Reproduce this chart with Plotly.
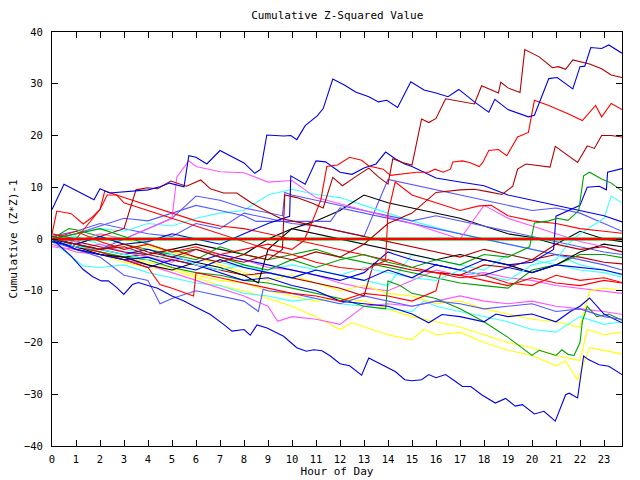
import plotly.graph_objects as go

HOURS = [0, 1, 2, 3, 4, 5, 6, 7, 8, 9, 10, 11, 12, 13, 14, 15, 16, 17, 18, 19, 20, 21, 22, 23, 23.75]
X_TICKS = list(range(24))
Y_TICKS = [-40, -30, -20, -10, 0, 10, 20, 30, 40]

BLUE = "#0000e0"; DRED = "#b00000"; RED = "#ff0000"; GREEN = "#00a000"
LBLUE = "#5858ff"; MAG = "#ff55ff"; CYAN = "#40ffff"; YEL = "#ffff00"; BLK = "#000000"

a_x = [0, 0.5, 1.75, 2.0, 2.4, 3.3, 4.0, 4.5, 4.9, 5.5, 5.7, 6.0, 6.45, 7.0, 7.45, 8.0, 8.45, 8.7, 8.95, 9.65, 9.95, 10.2, 10.55, 11.05, 11.3, 11.7, 12.2, 12.65, 13.2, 13.6, 13.95, 14.4, 14.95, 15.5, 16.0, 16.5, 16.95, 17.6, 18.2, 18.45, 19.0, 19.85, 20.1, 20.7, 21.05, 21.7, 22.0, 22.2, 22.45, 22.9, 23.2, 23.75]
a_y = [5.7, 10.6, 7.6, 9.7, 8.9, 9.2, 9.5, 10.1, 10.8, 10.1, 16.1, 15.8, 14.5, 17.1, 16.0, 14.7, 12.7, 13.5, 20.1, 19.9, 20.0, 19.2, 21.9, 23.8, 25.2, 30.9, 29.7, 28.4, 27.5, 26.5, 26.8, 25.4, 30.4, 28.8, 28.2, 27.5, 28.9, 26.5, 24.5, 27.0, 25.0, 23.6, 23.9, 31.0, 31.2, 29.0, 33.3, 33.4, 37.0, 36.8, 37.5, 35.9]

b_x = [0, 1, 2, 3, 4, 5, 6, 7, 8, 9, 9.6, 9.7, 10.2, 10.8, 11.3, 11.7, 12.1, 12.7, 13.2, 13.6, 14.0, 14.2, 14.6, 15.0, 15.4, 15.7, 16.0, 16.4, 17.1, 17.6, 17.9, 18.3, 18.6, 18.7, 19.0, 19.5, 19.7, 20.3, 20.85, 21.1, 21.4, 21.7, 22.4, 22.9, 23.3, 23.75]
b_y = [0, -1, -2, -1.5, -3, -2, -3.5, -4.5, -3, -4, -2, 8.5, 8, 7, 6, 11.9, 10.3, 12.2, 13.7, 12, 10.6, 15.5, 14.8, 14.3, 23.2, 22.5, 23.3, 27.1, 26.5, 26.1, 29.6, 28.8, 28.2, 30.3, 29.2, 28.3, 36.6, 35.2, 33.1, 33.3, 32.8, 34.6, 33.8, 32.9, 31.7, 31.2]

c_x = [0, 1, 2, 3, 4, 5, 6, 7, 8, 9, 10, 10.5, 10.9, 11.2, 11.45, 11.9, 12.4, 12.9, 13.2, 13.8, 14.1, 14.6, 15.2, 15.7, 15.95, 16.3, 16.6, 16.7, 17.1, 17.4, 17.8, 17.95, 18.2, 18.6, 18.95, 19.4, 19.85, 20.1, 20.7, 21.5, 22.1, 22.65, 22.9, 23.3, 23.75]
c_y = [0, 1.5, -0.5, -2, -1, -2.5, -1.5, -3, -2, -1, -2, -0.3, 4, 7.5, 14, 14.3, 15.8, 15.2, 14.1, 13.5, 12.3, 12.6, 12.9, 12.9, 13.5, 12.9, 13.5, 14.9, 15.1, 14.8, 14, 14.8, 17.1, 17.3, 16.1, 19.7, 20.6, 26.8, 25.8, 24.2, 22.9, 25.8, 23.6, 26.2, 25]

d_x = [0, 1, 2, 3, 4, 5, 6, 7, 8, 9, 10, 11, 12, 13, 14, 15, 16, 17, 17.6, 18.2, 18.75, 19.2, 19.4, 19.75, 20.3, 20.75, 20.97, 21.5, 21.9, 22.3, 22.6, 22.9, 23.3, 23.75]
d_y = [0, -1, -2, -1, -2.5, -3.5, -2, -3.5, -4.5, -3, -4, -2.5, -3.5, -1, 3, 5, 9, 9.5, 9.6, 9.1, 8.6, 10.2, 13.5, 14.5, 14.2, 13.9, 17.9, 16.2, 14.8, 18, 17.5, 20, 20, 19.7]

e_x = [0, 1, 2, 3, 4, 5, 6, 7, 8, 9, 10, 11, 12, 13, 14, 15, 16, 17, 18, 19, 19.9, 20.1, 20.7, 21.05, 21.5, 21.95, 22.15, 22.4, 22.9, 23.3, 23.75]
e_y = [0, 1, 2, 0.5, -1, -2.5, -2, -3.5, -5, -6, -4, -5.5, -4, -3, -4.5, -5.5, -4, -5, -3, -3.5, -1.5, 3.1, 3.5, 4, 3.6, 5.5, 12.2, 12.9, 11.6, 10.8, 9.3]

f_x = [0, 1, 2, 3, 3.5, 3.96, 4.4, 4.95, 5.6, 6.2, 6.6, 7.15, 7.7, 8.3, 8.8, 9.5, 10, 11, 12, 13, 14, 15, 16, 17, 18, 19, 20, 21, 22, 23, 23.75]
f_y = [0, -1, 0.5, 2, 9.5, 9.9, 9.7, 11.2, 10.2, 11.4, 9.7, 8.9, 8.9, 7, 5.7, 4, 3.5, 2.5, 1.5, 0.5, -0.5, -1.5, -2.5, -3.5, -2, -3, -4, -1, -2, -1.5, -2.5]

g_x = [0, 1, 2, 3, 4, 5, 6, 7, 8, 9, 10, 11, 12, 13, 14, 15, 16, 17, 18, 19, 20, 20.9, 21.0, 21.5, 22.0, 22.3, 22.8, 23.1, 23.15, 23.75]
g_y = [0, -2, -3, -4, -3.5, -5, -6, -4, -5.5, -6.5, -7.5, -6, -7, -8, -6, -7.5, -5, -6, -4, -5, -4.5, -2, 4.4, 5.5, 6.5, 10, 10.2, 9.5, 12.9, 13.6]

s1_x = [0, 1, 2, 3, 4, 5, 6, 7, 8, 9, 9.9, 9.95, 10.55, 11.0, 11.4, 12.0, 12.5, 13.0, 13.5, 13.9, 14.3, 14.7, 15.0, 15.5, 16, 17, 18, 19, 20, 21, 22, 23, 23.75]
s1_y = [0, -1, 0.5, -1, -0.5, 1, 0, -1, 1, 3, 4.4, 12.2, 10.6, 15.1, 14.9, 12.9, 12.5, 13.7, 14.5, 16.8, 15.5, 14.5, 14, 12.9, 11.8, 11, 10.3, 8.5, 7.5, 6.5, 5.5, 4.5, 3.3]

s2_y = [0.5, 1.5, 3, 2, 1, 0.5, 3, 2, 5, 4, 3, 2.5, 1.5, 0.5, 11.5, 10.5, 9.5, 8.5, 7.5, 6.5, 5.5, 6, 5, 3, 1.5]
s3_x = [0, 1, 2, 3, 4, 5, 5.2, 5.7, 6, 7, 8, 9, 10, 11, 12, 13, 14, 15, 16, 17, 18, 19, 20, 21, 22, 23, 23.75]
s3_y = [0, -0.5, 1, 0, 2, 4, 12, 15.1, 14, 13, 12.8, 11, 11.3, 8, 6.8, 5.5, 4.3, 3, 1.5, 0, 6.5, 4, 2.5, 1, -0.5, -1.5, -2.5]
s4_y = [0, 1, 2, 1.5, 3, 2.5, 4, 5, 5.5, 8.5, 9.6, 8.6, 8, 6.5, 5, 3.5, 2.2, 1, 0, -1, -2, -3, -5, -6, -7]
s5_y = [0, -1.5, -2.5, -3.5, -3, -2, -1, -2, -3, 0, 2, 3.5, 5.5, 8.5, 7, 6, 5, 4, 2.5, 1, 0.3, -1, 1.5, 0, -0.5]
s7_x = [0, 1, 2, 3, 4, 5, 6, 7, 8, 9, 10, 11, 12, 13, 14, 15, 16, 17, 18, 19, 20, 21, 21.5, 22, 22.5, 23, 23.3, 23.75]
s7_y = [0, -1.5, -2, -3, -4, -3, -5, -6, -5, -6.5, -7.5, -6, -7, -5.5, -6.5, -7.5, -8, -6, -7, -8, -5, -4, -1, 1, 2.5, 4, 8.3, 7]
s8_x = [0, 1, 2, 2.2, 3, 4, 5, 6, 7, 8, 9, 10, 11, 12, 13, 13.9, 14.0, 14.3, 15, 16, 17, 17.8, 18.3, 19, 20, 21, 22, 23, 23.75]
s8_y = [1, 0, 5.7, 9.3, 8, 6.5, 5, 3.5, 2.5, 2, 1, 0, -1, -2, -3, -4, 5, 11, 8.5, 7, 5.5, 6.4, 6.5, 4.5, 3.5, 3, 2, 1.5, 1.1]
s9_x = [0, 0.2, 0.8, 1.3, 1.7, 2.0, 2.3, 2.7, 3, 4, 5, 6, 7, 8, 9, 10, 11, 12, 13, 14, 15, 16, 17, 18, 19, 20, 21, 22, 23, 23.75]
s9_y = [1, 5.4, 4.9, 2.9, 4.3, 5.7, 8.5, 8.5, 7, 5.5, 4, 2.5, 1, -0.5, -2, -3, -4.5, -5.5, -6, -4, -5.5, -6.5, -7.5, -7, -8.5, -9, -7, -8, -7.5, -8.4]

y1_x = [0, 1, 2, 3, 4, 5, 6, 7, 8, 9, 10, 11, 12, 12.5, 13, 14, 15, 15.5, 16, 17, 18, 19, 20, 21, 21.4, 21.9, 22.4, 23, 23.75]
y1_y = [-1, -2.5, -3, -4.5, -5.5, -6, -7.5, -9, -10, -11.5, -13, -15, -17.5, -16.2, -17, -18.5, -19.5, -17.4, -18.5, -18, -20, -21.5, -22.5, -24.5, -23.6, -27.2, -21, -21.5, -22.2]
y2_x = [0, 1, 2, 3, 4, 5, 6, 7, 8, 9, 10, 11, 12, 13, 14, 15, 16, 17, 18, 19, 20, 21, 22, 22.3, 23, 23.75]
y2_y = [0, -1.5, -2.5, -3.5, -4.5, -5.5, -7, -8, -8.5, -10, -11, -12, -11.5, -12, -13.5, -15, -16, -17, -18.5, -20, -21, -22.5, -23.5, -17.5, -18.5, -18]
y3_x = [0, 1, 2, 3, 4, 5, 6, 7, 8, 9, 10, 11, 12, 13, 14, 15, 16, 17, 18, 19, 20, 21, 22, 22.4, 23, 23.75]
y3_y = [0.5, -0.5, 1, 0, -1.5, -2.5, -3.5, -5, -6.5, -8, -7, -8.5, -10, -9, -10.5, -11, -12.5, -12, -13.5, -14.5, -15.5, -16, -17, -10, -9.5, -10]

cy2_x = [0, 1, 1.3, 2, 3, 4, 5, 6, 7, 8, 9, 10, 11, 12, 13, 14, 15, 15.5, 16, 17, 18, 19, 20, 21, 22, 23, 23.75]
cy2_y = [-0.5, -4, -5.2, -5.5, -5, -6.5, -7.5, -8.5, -9, -10.5, -11, -12, -11.5, -12.5, -13, -13.5, -14, -12, -13, -14, -15, -16, -17.5, -18, -15, -16.5, -16]
mg2_x = [0, 1, 2, 3, 4, 5, 6, 7, 8, 9, 9.4, 10, 11, 12, 13, 14, 15, 16, 17, 18, 19, 20, 21, 22, 23, 23.75]
mg2_y = [-1, -2.5, -3, -4, -5, -6.5, -8, -9.5, -11, -13, -15.9, -15, -15.5, -16.5, -13, -12.5, -13, -12, -11, -12, -12.5, -12, -13, -13.5, -14, -14.6]
gl_x = [0, 1, 2, 3, 4, 5, 6, 7, 8, 9, 10, 11, 12, 13, 13.9, 14.0, 14.5, 15, 16, 17, 18, 19, 20, 20.3, 21, 21.25, 21.5, 21.75, 22.0, 22.1, 22.3, 22.7, 23.2, 23.75]
gl_y = [0, -1, -2.5, -3.5, -4, -5.5, -6.5, -7, -8, -8.5, -9.5, -10.5, -11.5, -13, -13.5, -8.1, -9, -10.5, -11.5, -13.5, -16, -19, -22.5, -21.5, -22.5, -21.4, -22.3, -22.5, -20, -15.9, -13, -15, -14.5, -15.7]
bl2_x = [0, 1, 2, 3, 4, 5, 6, 7, 8, 9, 10, 11, 12, 13, 14, 15, 15.7, 16.25, 17, 18, 18.5, 19, 20, 21, 21.6, 22, 22.4, 23, 23.75]
bl2_y = [0, -2, -3, -4, -5.5, -4, -5, -6.5, -8, -7.5, -9, -10, -12, -12.5, -13, -14.5, -16.2, -14.6, -15, -16, -14.5, -15, -14.5, -16, -14, -13, -11.4, -14.5, -16.2]
lb2_x = [0, 1, 2, 3, 4, 4.5, 5, 6, 7, 8, 8.6, 8.8, 9, 10, 11, 12, 13, 14, 15, 16, 17, 18, 19, 20, 21, 22, 23, 23.75]
lb2_y = [-0.5, -2, -3.5, -7, -8, -12.5, -11.5, -10, -11, -12, -14, -9.7, -10, -10.5, -11.5, -12.5, -11, -12, -13, -12, -12.5, -13.5, -13, -12.5, -14, -13.5, -15, -15.5]
r3_x = [0, 1, 2, 3, 4, 4.5, 5, 5.9, 6, 7, 8, 9, 10, 11, 12, 13, 14, 15, 16, 16.2, 17, 18, 19, 20, 21, 22, 23, 23.75]
r3_y = [0, -1.5, -2.5, -4, -5.5, -8.8, -9.5, -11, -6.5, -7.5, -8.5, -9.5, -10.5, -11, -12, -10.5, -11, -12, -10, -6.5, -7, -8, -9, -7.5, -8.5, -9, -8, -8.5]
dr2_x = [0, 1, 2, 3, 4, 5, 6, 7, 8, 9, 10, 11, 12, 13, 13.4, 14, 15, 16, 17, 18, 19, 20, 21, 22, 23, 23.75]
dr2_y = [0.5, -0.5, -1.5, -2.5, -3, -4, -5, -6, -7, -6.5, -7.5, -8.5, -9.5, -11, -4.7, -5, -6, -6.5, -7, -5, -5.5, -4, -3, -3.5, -4.5, -4.8]
gr2_x = [0, 0.7, 1, 2, 3, 4, 5, 6, 7, 8, 9, 10, 11, 12, 13, 14, 15, 16, 17, 18, 19, 20, 21, 22, 23, 23.75]
gr2_y = [0, 2, 1.8, 0.5, -1, -2, -3, -4, -1.5, -3, -4, -3, -2, -3.5, -4.5, -5.5, -6.5, -7.5, -8.5, -9, -9.5, -6, -5, -3, -3, -3.6]
cy3_y = [0, 0.5, -1, -2, -3, -2.5, -3.5, -4.5, -5.5, -6, -5, -6, -7, -8, -9, -3, -4, -5, -6, -3, -4, -5, -6, -6.5, -7.4]
mg3_y = [-1.5, -2, -1, -2.5, -3.5, -4.5, -2, -3, -4, -5.5, -6, -7, -8.5, -9.5, -10, -8, -6, -7, -6.5, -7.5, -8, -9, -9.5, -10, -10.5]
bk2_x = [0, 1, 2, 3, 4, 5, 6, 7, 8, 8.6, 9, 10, 11, 12, 13, 14, 15, 16, 17, 18, 19, 20, 21, 22, 23, 23.75]
bk2_y = [0, -1.5, -3, -3.5, -5, -6, -4.5, -5.5, -7, -8.5, -2, 2, 1, 0, -1, -2, -3, -4, -3, -4, -5, -6.5, -5, -2.5, -1, -1.5]
bl3_x = [0, 1, 2, 3, 4, 5, 6, 7, 8, 9, 10, 11, 12, 13, 14, 14.3, 15, 16, 17, 18, 19, 20, 21, 22, 23, 23.75]
bl3_y = [-0.5, -1.5, -2, -3, -2, -3.5, -4.5, -3, -4, -5, -6, -7, -8, -6.5, -2.5, -3, -4, -5, -6, -7, -5.5, -6.5, -5, -5.5, -6, -6.8]
lb3_x = [0, 1, 2, 3, 4, 5, 6, 7, 8, 8.5, 11.6, 12, 13, 14, 15, 16, 17, 18, 19, 20, 21, 22, 23, 23.75]
lb3_y = [0, 1, 2.5, 4, 3.5, 5, 6.5, 5.5, 4.5, 3.4, 3.4, 6, 5, 4, 3, 2, 1, 0, -1, -2, -3, -4, -5, -6]
lb4_x = [0, 1, 2, 3, 4, 5, 6, 7, 8, 9, 9.6, 9.7, 10, 11, 12, 13, 14, 15, 16, 17, 18, 19, 20, 21, 22, 23, 23.75]
lb4_y = [0, -1, -2, 0, 2, 4, 8.3, 7.5, 6, 5, 4.5, 9, 8.5, 7.5, 6.5, 5.5, 4.5, 3.5, 4.5, 3.5, 2.5, 1.5, 0.5, -0.5, -1.5, -2.5, -3]

z_x = [0, 0.8, 1.3, 1.7, 2.05, 2.35, 2.7, 2.99, 3.35, 3.6, 4.0, 4.4, 5.0, 5.5, 6.04, 6.6, 7.15, 7.5, 8.0, 8.26, 8.54, 8.96, 9.65, 10.2, 10.6, 10.9, 11.25, 11.6, 12.0, 12.4, 12.9, 13.2, 13.75, 14.3, 14.7, 15.0, 15.4, 15.7, 16.0, 16.4, 16.8, 17.1, 17.45, 17.9, 18.47, 18.9, 19.3, 19.6, 20.1, 20.5, 20.97, 21.4, 21.55, 21.9, 22.15, 22.35, 22.8, 23.2, 23.75]
z_y = [0, -3.3, -5.9, -7.3, -8.1, -8.1, -9.4, -10.7, -8.8, -8.4, -9.0, -9.5, -11.0, -12.0, -13.3, -14.6, -16.5, -17.8, -17.5, -18.6, -16.6, -17.2, -18.8, -21.0, -21.7, -21.4, -21.6, -22.6, -24.1, -24.5, -26.3, -23.0, -24.3, -25.6, -27.2, -27.4, -27.2, -26.2, -26.8, -26.2, -27.5, -28.5, -28.5, -30.1, -31.7, -30.8, -32.3, -32.0, -33.8, -33.3, -35.2, -30.1, -29.8, -30.7, -22.6, -23.3, -24.3, -24.6, -26.2]

ZERO_Y = [0] * len(HOURS)

series = [
    (HOURS, s2_y, LBLUE), (HOURS, s4_y, CYAN), (HOURS, s5_y, BLK), (HOURS, cy3_y, CYAN), (HOURS, mg3_y, MAG),
    (y1_x, y1_y, YEL), (y2_x, y2_y, YEL), (y3_x, y3_y, YEL),
    (cy2_x, cy2_y, CYAN), (mg2_x, mg2_y, MAG), (gl_x, gl_y, GREEN), (bl2_x, bl2_y, BLUE), (lb2_x, lb2_y, LBLUE),
    (r3_x, r3_y, RED), (dr2_x, dr2_y, DRED), (gr2_x, gr2_y, GREEN), (bk2_x, bk2_y, BLK), (bl3_x, bl3_y, BLUE),
    (lb3_x, lb3_y, LBLUE), (lb4_x, lb4_y, LBLUE), (s3_x, s3_y, MAG), (s7_x, s7_y, CYAN), (s8_x, s8_y, RED),
    (s9_x, s9_y, RED), (f_x, f_y, DRED), (g_x, g_y, BLUE), (e_x, e_y, GREEN), (s1_x, s1_y, BLUE),
    (d_x, d_y, DRED), (c_x, c_y, RED), (b_x, b_y, DRED), (a_x, a_y, BLUE), (z_x, z_y, BLUE),
]

fig = go.Figure()
for xs, ys, col in series:
    fig.add_trace(go.Scatter(x=xs, y=ys, mode="lines", line=dict(color=col, width=1.1), hoverinfo="skip"))
fig.add_trace(go.Scatter(x=HOURS, y=ZERO_Y, mode="lines", line=dict(color=GREEN, width=3)))
fig.add_trace(go.Scatter(x=HOURS, y=ZERO_Y, mode="lines", line=dict(color=RED, width=2)))

font = dict(family="DejaVu Sans Mono", size=11, color="black")
tick_font = dict(family="DejaVu Sans Mono", size=10.5, color="black")
axis_common = dict(showgrid=False, zeroline=False, showline=True, linecolor="black", linewidth=1,
                   mirror="ticks", ticks="inside", ticklen=6, tickcolor="black", tickfont=tick_font,
                   automargin=False)
fig.update_layout(
    width=640, height=480, showlegend=False,
    paper_bgcolor="white", plot_bgcolor="white",
    margin=dict(l=52, r=18, t=32, b=34),
    title=dict(text="Cumulative Z-Squared Value", x=0.527, xanchor="center", y=0.968, yanchor="middle", font=font),
    xaxis=dict(range=[0, 23.75], tickvals=X_TICKS, ticklabelstandoff=3,
               title=dict(text="Hour of Day", font=font, standoff=2), **axis_common),
    yaxis=dict(range=[-40, 40], tickvals=Y_TICKS, ticklabelstandoff=6,
               title=dict(text="Cumulative (Z*Z)-1", font=font, standoff=4), **axis_common),
)
fig.write_html("out.html")
